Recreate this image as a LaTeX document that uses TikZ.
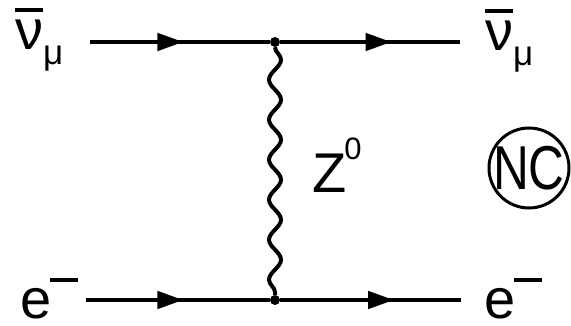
\documentclass[tikz,border=0pt]{standalone}
\usepackage{fontspec}
\setmainfont{Liberation Sans}
\usetikzlibrary{arrows.meta,decorations.pathmorphing,decorations.markings}
\newcommand\bignu{\leavevmode\rlap{\rule[38pt]{28pt}{4pt}}ν}
\newcommand\subm{\raisebox{-15pt}{\fontsize{35}{36}\selectfont μ}}
\newcommand\supminus{\kern-1pt\rule[36pt]{28pt}{4pt}}
\begin{document}
\begin{tikzpicture}[x=1pt,y=-1pt,
  lbl/.style={anchor=base west,inner sep=0pt,font=\fontsize{56}{60}\selectfont},
  fermion/.style={line width=4.5pt,postaction={decorate},
    decoration={markings,mark=at position #1 with {\arrow{Triangle[length=26pt,width=17pt]}}}},
  boson/.style={line width=4pt,decorate,decoration={snake,segment length=40pt,amplitude=6pt}},
  vtx/.style={circle,fill,inner sep=0pt,minimum size=10pt}]
\useasboundingbox (0,0) rectangle (571,326);
% vertices and ends
\node[vtx] (vt) at (275,42) {};
\node[vtx] (vb) at (275,300) {};
\coordinate (a1) at (90,42);
\coordinate (a2) at (460,42);
\coordinate (b1) at (86,300);
\coordinate (b2) at (461,300);
% fermion lines
\draw[fermion=0.52] (a1) -- (vt);
\draw[fermion=0.62] (vt) -- (a2);
\draw[fermion=0.53] (b1) -- (vb);
\draw[fermion=0.63] (vb) -- (b2);
% boson
\draw[boson] (vt) -- (vb);
% labels
\node[lbl] (nuL) at (15,50) {\bignu\subm};
\node[lbl] (nuR) at (485,51) {\bignu\subm};
\node[lbl] (eL) at (20,318) {e\supminus};
\node[lbl] (eR) at (484,318) {e\supminus};
\node[lbl] (Z) at (312,193) {Z\kern-2pt\raisebox{33pt}{\fontsize{31}{32}\selectfont 0}};
\node[circle,draw,line width=3pt,minimum size=80pt,inner sep=0pt] (ncc) at (529,168) {};
\node[inner sep=0pt,xscale=0.8,font=\fontsize{62}{64}\selectfont] (nc) at (ncc.center) {NC};
\end{tikzpicture}
\end{document}
